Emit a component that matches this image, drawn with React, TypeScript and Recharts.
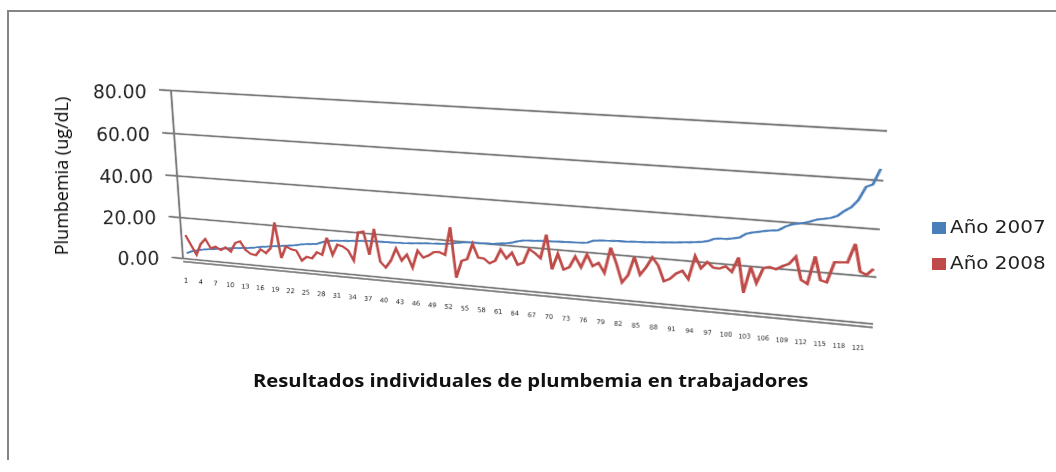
import { CartesianGrid, Line, LineChart, ReferenceLine, XAxis, YAxis } from 'recharts';

const blue2007 = [
  2.8, 3.9, 4.6, 5.2, 5.6, 5.9, 6.2, 6.6, 6.9, 7.2, 7.5, 7.8, 8.0, 8.3, 8.7, 9.2, 9.5, 9.9, 10.2, 10.5,
  10.9, 11.2, 11.6, 12.2, 12.5, 12.8, 13.0, 14.0, 14.8, 15.2, 15.4, 15.6, 15.8, 16.0, 16.2, 16.4, 16.6, 16.7, 16.7, 16.8,
  16.8, 16.9, 17.0, 17.1, 17.3, 17.5, 17.7, 17.9, 18.0, 18.2, 18.3, 18.7, 19.2, 19.6, 20.0, 20.1, 20.0, 20.1, 20.2, 20.3,
  20.7, 21.0, 21.5, 22.3, 22.9, 23.1, 23.2, 23.4, 23.5, 23.6, 23.7, 23.8, 23.9, 24.0, 24.1, 24.3, 25.4, 25.7, 25.9, 26.0,
  26.2, 26.2, 26.3, 26.5, 26.6, 26.7, 26.9, 27.1, 27.3, 27.5, 27.7, 28.0, 28.2, 28.5, 28.8, 29.4, 30.6, 30.9, 30.9, 31.4,
  32.0, 33.8, 34.6, 35.1, 35.7, 36.1, 36.3, 38.0, 39.2, 39.8, 40.3, 41.2, 42.2, 42.7, 43.2, 44.3, 46.5, 48.3, 51.4, 57.0,
  58.2, 64.7,
];

const red2008 = [
  11.6, 7.0, 2.5, 8.0, 10.6, 6.3, 7.3, 5.9, 7.4, 5.6, 10.0, 11.0, 7.0, 5.4, 5.0, 8.1, 6.4, 9.1, 21.5, 4.7,
  10.5, 9.4, 9.0, 4.4, 6.5, 6.0, 9.1, 8.1, 16.4, 8.5, 13.6, 13.0, 11.3, 6.7, 20.2, 20.8, 10.1, 22.4, 7.4, 4.8,
  8.3, 14.2, 8.8, 11.8, 5.9, 14.1, 11.1, 12.3, 14.1, 14.3, 13.2, 26.2, 3.1, 11.2, 12.2, 19.4, 13.3, 13.2, 11.2, 12.6,
  17.9, 14.1, 16.9, 11.7, 12.9, 19.3, 17.7, 15.6, 26.4, 11.0, 18.2, 11.4, 12.7, 17.7, 13.1, 19.1, 14.1, 15.8, 11.5, 23.0,
  16.2, 8.0, 11.4, 19.8, 12.1, 15.7, 20.3, 16.9, 10.2, 11.5, 14.1, 15.5, 12.1, 22.4, 17.3, 20.3, 18.1, 17.9, 19.1, 16.9,
  23.4, 8.4, 19.8, 13.0, 19.7, 20.5, 19.7, 21.3, 22.5, 25.8, 16.1, 14.6, 26.6, 16.7, 16.0, 24.8, 25.0, 25.2, 33.2, 21.7,
  20.6, 23.4,
];

const yTicks = [0, 20, 40, 60, 80];
const seriesNames = ['Año 2007', 'Año 2008'];
const seriesColors = ['#4a7ebb', '#be4b48'];
const chartTitle = 'Resultados individuales de plumbemia en trabajadores';
const yTitle = 'Plumbemia (ug/dL)';

const data = blue2007.map((v, i) => ({ n: i + 1, a2007: v, a2008: red2008[i] }));

// plot rect inside the flat chart
const CW = 1000;
const CH = 440;
const PX = 130;
const PY = 40;
const PW = 720;
const PH = 240;

// where the plot rect lands on the page (Excel 3D look)
const quad = [
  [171, 90.5],
  [887, 131],
  [873, 324],
  [183, 258.5],
];

function makeWarp() {
  const [[x0, y0], [x1, y1], [x2, y2], [x3, y3]] = quad;
  const dx1 = x1 - x2;
  const dx2 = x3 - x2;
  const sx = x0 - x1 + x2 - x3;
  const dy1 = y1 - y2;
  const dy2 = y3 - y2;
  const sy = y0 - y1 + y2 - y3;
  const den = dx1 * dy2 - dx2 * dy1;
  const g = (sx * dy2 - dx2 * sy) / den;
  const h = (dx1 * sy - sx * dy1) / den;
  const a = x1 - x0 + g * x1;
  const b = x3 - x0 + h * x3;
  const d = y1 - y0 + g * y1;
  const e = y3 - y0 + h * y3;
  const A = a / PW;
  const B = b / PH;
  const C = x0 - A * PX - B * PY;
  const D = d / PW;
  const E = e / PH;
  const F = y0 - D * PX - E * PY;
  const G = g / PW;
  const H = h / PH;
  const I = 1 - G * PX - H * PY;
  return { A, B, C, D, E, F, G, H, I };
}

const warp = makeWarp();
const matrix = `matrix3d(${warp.A},${warp.D},0,${warp.G},${warp.B},${warp.E},0,${warp.H},0,0,1,0,${warp.C},${warp.F},0,${warp.I})`;

// svg transform that cancels the warp around one point, so labels stay upright
function upright(x: number, y: number) {
  const { A, B, C, D, E, F, G, H, I } = warp;
  const w = G * x + H * y + I;
  const X = (A * x + B * y + C) / w;
  const Y = (D * x + E * y + F) / w;
  const j11 = (A - G * X) / w;
  const j12 = (B - H * X) / w;
  const j21 = (D - G * Y) / w;
  const j22 = (E - H * Y) / w;
  const det = j11 * j22 - j12 * j21;
  return `translate(${x} ${y}) matrix(${j22 / det} ${-j21 / det} ${-j12 / det} ${j11 / det} 0 0)`;
}

function XTick({ x, y, payload }: any) {
  return (
    <g transform={upright(x - 3, y + 25)}>
      <text textAnchor="middle" dominantBaseline="middle" fontSize={6.5} fontFamily="DejaVu Sans" fill="#222">
        {payload.value}
      </text>
    </g>
  );
}

function YTick({ x, y, payload }: any) {
  return (
    <g>
      <line x1={x - 1} x2={x + 13} y1={y} y2={y} stroke="#7c7c7c" strokeWidth={2.4} />
      <g transform={upright(x - 16, y + 5)}>
        <text textAnchor="end" dominantBaseline="middle" fontSize={19} fontFamily="DejaVu Sans" fill="#222">
          {payload.value.toFixed(2)}
        </text>
      </g>
    </g>
  );
}

export default function App() {
  return (
    <div style={{ position: 'fixed', left: 0, top: 0, width: 1056, height: 472, background: '#fff', overflow: 'hidden', filter: 'blur(0.5px)' }}>
      <div style={{ position: 'absolute', left: 7, top: 10, width: 1060, height: 448, borderLeft: '2.5px solid #868686', borderTop: '2.5px solid #868686' }} />
      <div style={{ position: 'absolute', left: 0, top: 0, width: CW, height: CH, transformOrigin: '0 0', transform: matrix }}>
        <LineChart width={CW} height={CH} data={data} margin={{ left: 0, top: PY, right: CW - PX - PW, bottom: 0 }}>
          <CartesianGrid vertical={false} stroke="#7c7c7c" strokeWidth={2.6} />
          <XAxis dataKey="n" axisLine={false} tickLine={false} interval={2} tick={<XTick />} padding={{ left: 5, right: 3 }} height={CH - PY - PH} />
          <YAxis
            domain={[0, 80]}
            ticks={yTicks}
            width={PX}
            tickSize={11}
            tickLine={{ stroke: '#7c7c7c', strokeWidth: 2.4 }}
            axisLine={{ stroke: '#7c7c7c', strokeWidth: 2.4 }}
            tick={<YTick />}
          />
          <ReferenceLine y={-1.5} stroke="#7c7c7c" strokeWidth={2.6} ifOverflow="visible" />
          <Line dataKey="a2007" name={seriesNames[0]} stroke={seriesColors[0]} strokeWidth={2.6} dot={false} isAnimationActive={false} />
          <Line dataKey="a2008" name={seriesNames[1]} stroke={seriesColors[1]} strokeWidth={3} dot={false} isAnimationActive={false} />
        </LineChart>
      </div>
      <div style={{ position: 'absolute', left: 253, top: 369, fontFamily: 'Open Sans', fontWeight: 700, fontSize: 17, color: '#111', whiteSpace: 'nowrap', transformOrigin: '0 50%', transform: 'scaleX(1.19)' }}>
        {chartTitle}
      </div>
      <div style={{ position: 'absolute', left: 61, top: 176, fontFamily: 'Open Sans', fontSize: 18, color: '#000', whiteSpace: 'nowrap', transform: 'translate(-50%,-50%) rotate(-90deg)' }}>
        {yTitle}
      </div>
      {seriesNames.map((name, i) => (
        <div key={name}>
          <div style={{ position: 'absolute', left: 932, top: 222 + i * 36, width: 14, height: 12, background: seriesColors[i] }} />
          <div style={{ position: 'absolute', left: 950, top: 217 + i * 36, fontFamily: 'DejaVu Sans', fontSize: 17.5, color: '#222', whiteSpace: 'nowrap', transformOrigin: '0 50%', transform: 'scaleX(1.14)' }}>
            {name}
          </div>
        </div>
      ))}
    </div>
  );
}
